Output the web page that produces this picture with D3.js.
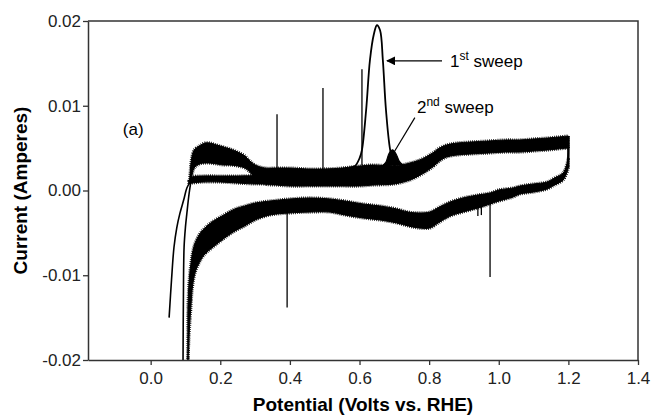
<!DOCTYPE html>
<html>
<head>
<meta charset="utf-8">
<script src="https://cdn.jsdelivr.net/npm/d3@7"></script>
<style>
  body { margin: 0; background: #fff; }
  svg { display: block; font-family: "Liberation Sans", Arial, sans-serif; }
</style>
</head>
<body>
<svg></svg>
<script>
const width = 651;
const height = 417;
const margin = { top: 21, right: 13, bottom: 57, left: 88 };

// tick labels
const xTicks = [0.0, 0.2, 0.4, 0.6, 0.8, 1.0, 1.2, 1.4];
const yTicks = [-0.02, -0.01, 0.00, 0.01, 0.02];

// anodic sweep, 1st sweep band (potential V, upper / lower current A)
const anodicV  = [0.112, 0.117, 0.125, 0.140, 0.156, 0.170, 0.190, 0.210, 0.228, 0.250, 0.271, 0.285, 0.300, 0.328, 0.360, 0.400, 0.450, 0.500, 0.550, 0.600, 0.640, 0.700, 0.745, 0.780, 0.810, 0.830, 0.850, 0.880, 0.920, 0.970, 1.020, 1.060, 1.100, 1.140, 1.170, 1.200];
const anodicHi = [0.00088, 0.00360, 0.00478, 0.00525, 0.00560, 0.00560, 0.00537, 0.00513, 0.00490, 0.00454, 0.00407, 0.00348, 0.00301, 0.00265, 0.00265, 0.00265, 0.00254, 0.00254, 0.00265, 0.00289, 0.00301, 0.00289, 0.00324, 0.00372, 0.00442, 0.00501, 0.00537, 0.00560, 0.00572, 0.00584, 0.00596, 0.00596, 0.00608, 0.00619, 0.00631, 0.00643];
const anodicLo = [0.00088, 0.00147, 0.00265, 0.00313, 0.00324, 0.00324, 0.00313, 0.00301, 0.00301, 0.00289, 0.00265, 0.00218, 0.00147, 0.00077, 0.00065, 0.00053, 0.00053, 0.00053, 0.00053, 0.00053, 0.00065, 0.00077, 0.00124, 0.00195, 0.00277, 0.00348, 0.00395, 0.00419, 0.00431, 0.00442, 0.00454, 0.00454, 0.00466, 0.00478, 0.00490, 0.00501];

// anodic sweep, 2nd sweep base in the hydrogen region
const baseV  = [0.110, 0.120, 0.150, 0.200, 0.250, 0.300, 0.330];
const baseHi = [0.00112, 0.00159, 0.00171, 0.00171, 0.00171, 0.00171, 0.00147];
const baseLo = [0.00077, 0.00088, 0.00100, 0.00100, 0.00088, 0.00077, 0.00077];

// cathodic sweep band
const cathV  = [1.200, 1.185, 1.160, 1.139, 1.100, 1.061, 1.041, 1.000, 0.975, 0.940, 0.897, 0.860, 0.830, 0.802, 0.770, 0.740, 0.707, 0.660, 0.610, 0.558, 0.515, 0.458, 0.400, 0.343, 0.300, 0.270, 0.242, 0.220, 0.205, 0.190, 0.176, 0.165, 0.156, 0.147, 0.139, 0.130, 0.124, 0.119, 0.116, 0.112, 0.109, 0.107];
const cathHi = [0.00383, 0.00206, 0.00147, 0.00100, 0.00077, 0.00053, 0.00030, 0.00006, -0.00030, -0.00053, -0.00088, -0.00136, -0.00195, -0.00254, -0.00265, -0.00254, -0.00218, -0.00183, -0.00159, -0.00124, -0.00100, -0.00088, -0.00100, -0.00124, -0.00148, -0.00183, -0.00218, -0.00265, -0.00301, -0.00336, -0.00372, -0.00407, -0.00442, -0.00478, -0.00525, -0.00596, -0.00667, -0.00761, -0.00855, -0.00997, -0.01174, -0.01410];
const cathLo = [0.00265, 0.00124, 0.00065, 0.00018, -0.00018, -0.00041, -0.00077, -0.00124, -0.00159, -0.00206, -0.00254, -0.00301, -0.00372, -0.00442, -0.00442, -0.00419, -0.00383, -0.00348, -0.00324, -0.00289, -0.00254, -0.00254, -0.00265, -0.00289, -0.00348, -0.00419, -0.00478, -0.00537, -0.00584, -0.00631, -0.00678, -0.00714, -0.00749, -0.00796, -0.00855, -0.00938, -0.01032, -0.01174, -0.01351, -0.01587, -0.01823, -0.02020];

// thin start of the 1st sweep and return of the 2nd
const startV = [0.053, 0.060, 0.067, 0.075, 0.084, 0.095, 0.104, 0.112];
const startI = [-0.0150, -0.0105, -0.0067, -0.0044, -0.0027, -0.0011, 0.0003, 0.0009];
const returnV = [0.093, 0.094, 0.096, 0.100, 0.104, 0.110, 0.115];
const returnI = [-0.0202, -0.0130, -0.0067, -0.0043, -0.0027, -0.0005, 0.0009];

// turn at 1.2 V
const turnV = [1.200, 1.200, 1.199];
const turnI = [0.0064, 0.0045, 0.0027];

// oxidation peaks
const peak1V = [0.570, 0.587, 0.600, 0.607, 0.619, 0.630, 0.641, 0.650, 0.659, 0.667, 0.676, 0.688, 0.699, 0.710];
const peak1I = [0.0027, 0.0029, 0.0038, 0.0048, 0.0095, 0.0154, 0.0184, 0.0195, 0.0189, 0.0154, 0.0095, 0.0048, 0.0030, 0.0027];
const peak2V = [0.660, 0.675, 0.685, 0.695, 0.705, 0.715, 0.725];
const peak2I = [0.0028, 0.0033, 0.0044, 0.0048, 0.0043, 0.0034, 0.0030];

// noise spikes
const spikeV    = [0.363, 0.495, 0.607, 0.392, 0.975, 0.940, 0.950];
const spikeTip  = [0.0090, 0.0121, 0.0143, -0.0138, -0.0102, -0.0030, -0.0029];
const spikeBase = [0.0020, 0.0025, 0.0030, -0.0015, -0.0005, -0.0008, -0.0008];

const zip3 = (xs, hi, lo) => xs.map((v, i) => ({ v: v, hi: hi[i], lo: lo[i] }));
const zip2 = (xs, ys) => xs.map((v, i) => ({ v: v, i: ys[i] }));

const svg = d3.select("svg")
    .attr("width", width)
    .attr("height", height);

const x = d3.scaleLinear().domain([-0.18, 1.4]).range([margin.left, width - margin.right]);
const y = d3.scaleLinear().domain([-0.02, 0.02]).range([height - margin.bottom, margin.top]);

svg.append("clipPath").attr("id", "plot")
  .append("rect")
    .attr("x", margin.left).attr("y", margin.top)
    .attr("width", width - margin.left - margin.right)
    .attr("height", height - margin.top - margin.bottom);

const g = svg.append("g").attr("clip-path", "url(#plot)");

const band = d3.area()
    .x(d => x(d.v))
    .y0(d => y(d.lo))
    .y1(d => y(d.hi))
    .curve(d3.curveCatmullRom);

const line = d3.line()
    .x(d => x(d.v))
    .y(d => y(d.i))
    .curve(d3.curveCatmullRom);

// noisy bands: solid fill plus a dashed fringe for the ragged edge
[zip3(anodicV, anodicHi, anodicLo), zip3(baseV, baseHi, baseLo), zip3(cathV, cathHi, cathLo)]
  .forEach(d => {
    g.append("path")
        .datum(d)
        .attr("d", band)
        .attr("fill", "#000")
        .attr("stroke", "#000")
        .attr("stroke-width", 1);
    g.append("path")
        .datum(d)
        .attr("d", band)
        .attr("fill", "none")
        .attr("stroke", "#000")
        .attr("stroke-width", 3.2)
        .attr("stroke-dasharray", "0.8 1.3");
  });

[zip2(startV, startI), zip2(returnV, returnI)].forEach(d => {
  g.append("path")
      .datum(d)
      .attr("d", line)
      .attr("fill", "none")
      .attr("stroke", "#000")
      .attr("stroke-width", 1.6);
});

g.append("path")
    .datum(zip2(turnV, turnI))
    .attr("d", line)
    .attr("fill", "none")
    .attr("stroke", "#000")
    .attr("stroke-width", 2.5);

g.append("path")
    .datum(zip2(peak1V, peak1I))
    .attr("d", line)
    .attr("fill", "none")
    .attr("stroke", "#000")
    .attr("stroke-width", 1.8);

g.append("path")
    .datum(zip2(peak2V, peak2I))
    .attr("d", line)
    .attr("fill", "#000")
    .attr("stroke", "#000")
    .attr("stroke-width", 1.2);

g.selectAll(".spike")
  .data(spikeV.map((v, i) => ({ v: v, tip: spikeTip[i], base: spikeBase[i] })))
  .join("line")
    .attr("class", "spike")
    .attr("x1", d => x(d.v)).attr("x2", d => x(d.v))
    .attr("y1", d => y(d.base)).attr("y2", d => y(d.tip))
    .attr("stroke", "#000")
    .attr("stroke-width", 1.3);

// axes
const xAxis = svg.append("g")
    .attr("transform", `translate(0,${height - margin.bottom})`)
    .call(d3.axisBottom(x).tickValues(xTicks).tickFormat(d => d.toFixed(1)).tickSize(5).tickSizeOuter(0));

const yAxis = svg.append("g")
    .attr("transform", `translate(${margin.left},0)`)
    .call(d3.axisLeft(y).tickValues(yTicks).tickFormat(d => d.toFixed(2)).tickSize(5).tickSizeOuter(0));

[xAxis, yAxis].forEach(a => {
  a.select(".domain").attr("stroke", "#333").attr("stroke-width", 1.5);
  a.selectAll(".tick line").attr("stroke", "#333").attr("stroke-width", 1.3);
  a.selectAll(".tick text").attr("fill", "#222").style("font-size", "17px");
});
xAxis.selectAll(".tick text").attr("dy", "0.95em");
yAxis.selectAll(".tick text").attr("x", -7);

// top and right frame
svg.append("path")
    .attr("d", `M${margin.left},${margin.top}H${width - margin.right}V${height - margin.bottom}`)
    .attr("fill", "none")
    .attr("stroke", "#333")
    .attr("stroke-width", 1.5);

// axis titles
svg.append("text")
    .attr("x", (margin.left + width - margin.right) / 2)
    .attr("y", 411)
    .attr("text-anchor", "middle")
    .style("font-size", "19px")
    .style("font-weight", "bold")
    .text("Potential (Volts vs. RHE)");

svg.append("text")
    .attr("transform", `translate(27,${(margin.top + height - margin.bottom) / 2}) rotate(-90)`)
    .attr("text-anchor", "middle")
    .style("font-size", "19px")
    .style("font-weight", "bold")
    .text("Current (Amperes)");

// annotations
svg.append("text")
    .attr("x", x(-0.08)).attr("y", y(0.0066))
    .style("font-size", "17px")
    .text("(a)");

svg.append("defs").append("marker")
    .attr("id", "head")
    .attr("viewBox", "0 0 10 10")
    .attr("refX", 9).attr("refY", 5)
    .attr("markerWidth", 7).attr("markerHeight", 7)
    .attr("orient", "auto")
  .append("path")
    .attr("d", "M0,0L10,5L0,10Z")
    .attr("fill", "#000");

svg.append("line")
    .attr("x1", x(0.837)).attr("y1", y(0.0153))
    .attr("x2", x(0.679)).attr("y2", y(0.0153))
    .attr("stroke", "#000")
    .attr("stroke-width", 1.3)
    .attr("marker-end", "url(#head)");

const t1 = svg.append("text")
    .attr("x", x(0.860)).attr("y", y(0.0146))
    .style("font-size", "17px");
t1.append("tspan").text("1");
t1.append("tspan").attr("dy", -7).style("font-size", "12px").text("st");
t1.append("tspan").attr("dy", 7).text(" sweep");

svg.append("line")
    .attr("x1", x(0.759)).attr("y1", y(0.0086))
    .attr("x2", x(0.693)).attr("y2", y(0.0041))
    .attr("stroke", "#000")
    .attr("stroke-width", 1.2);

const t2 = svg.append("text")
    .attr("x", x(0.765)).attr("y", y(0.0092))
    .style("font-size", "17px");
t2.append("tspan").text("2");
t2.append("tspan").attr("dy", -7).style("font-size", "12px").text("nd");
t2.append("tspan").attr("dy", 7).text(" sweep");
</script>
</body>
</html>
